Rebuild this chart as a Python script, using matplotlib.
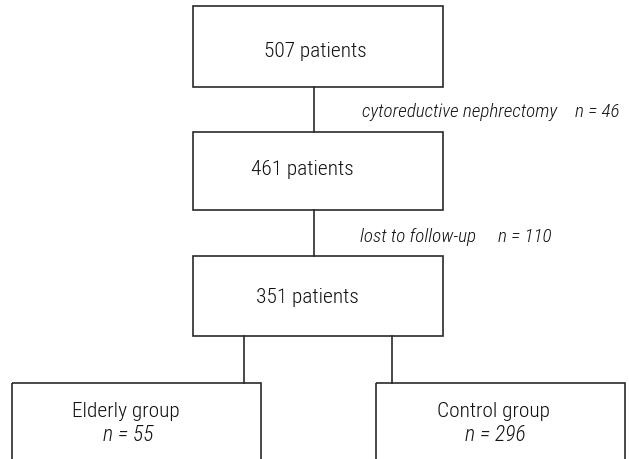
import matplotlib
matplotlib.use("Agg")
import matplotlib.pyplot as plt
from matplotlib.patches import Rectangle

# Flow chart content
stage_labels = ["507 patients", "461 patients", "351 patients"]
exclusion_labels = ["cytoreductive nephrectomy", "lost to follow-up"]
exclusion_counts = [46, 110]
group_labels = ["Elderly group", "Control group"]
group_counts = [55, 296]

plt.rcParams['font.family'] = ['Roboto Condensed', 'DejaVu Sans']
plt.rcParams['font.weight'] = 'light'

fig = plt.figure(figsize=(6.29, 4.60), dpi=100)
ax = fig.add_axes([0, 0, 1, 1])
ax.set_xlim(0, 629)
ax.set_ylim(460, 0)
ax.axis('off')

edge = '#2a2a2a'
tcol = '#111111'
lw = 1.2

# main column boxes (x0, y0, x1, y1) in pixel space
main_boxes = [(193, 7, 443, 88), (193, 133, 443, 211), (193, 257, 443, 337)]
text_x = [264, 251, 256]
text_base = [57, 175, 303]
for (x0, y0, x1, y1), lab, tx, ty in zip(main_boxes, stage_labels, text_x, text_base):
    ax.add_patch(Rectangle((x0, y0), x1 - x0, y1 - y0, fill=False,
                           edgecolor=edge, lw=lw))
    ax.text(tx, ty, lab, ha='left', va='baseline', fontsize=15.4, color=tcol)

# connectors between main boxes
line_x = 314
for i in range(2):
    ax.plot([line_x, line_x], [main_boxes[i][3], main_boxes[i + 1][1]],
            color=edge, lw=lw)

# exclusion notes: label and count placed separately
note_x = [362, 360]
note_base = [117, 242]
count_x = [575, 498]
for nx, ny, cx, lab, cnt in zip(note_x, note_base, count_x,
                                exclusion_labels, exclusion_counts):
    ax.text(nx, ny, lab, ha='left', va='baseline', fontsize=13.8,
            style='italic', color=tcol)
    ax.text(cx, ny, "n = %d" % cnt, ha='left', va='baseline', fontsize=13.8,
            style='italic', color=tcol)

# group boxes
group_boxes = [(12, 384, 261, 470), (376, 384, 625, 470)]
group_line_x = [244, 392]
group_text_x = [72, 437]
group_n_x = [103, 465]
for (x0, y0, x1, y1), gx, tx, nx, lab, cnt in zip(group_boxes, group_line_x,
                                                  group_text_x, group_n_x,
                                                  group_labels, group_counts):
    ax.add_patch(Rectangle((x0, y0), x1 - x0, y1 - y0, fill=False,
                           edgecolor=edge, lw=lw, clip_on=False))
    ax.plot([gx, gx], [main_boxes[2][3], y0], color=edge, lw=lw)
    ax.text(tx, 417, lab, ha='left', va='baseline', fontsize=15.4, color=tcol)
    ax.text(nx, 441, "n = %d" % cnt, ha='left', va='baseline',
            fontsize=15.6, style='italic', color=tcol)

fig.savefig("out.png", dpi=100)
